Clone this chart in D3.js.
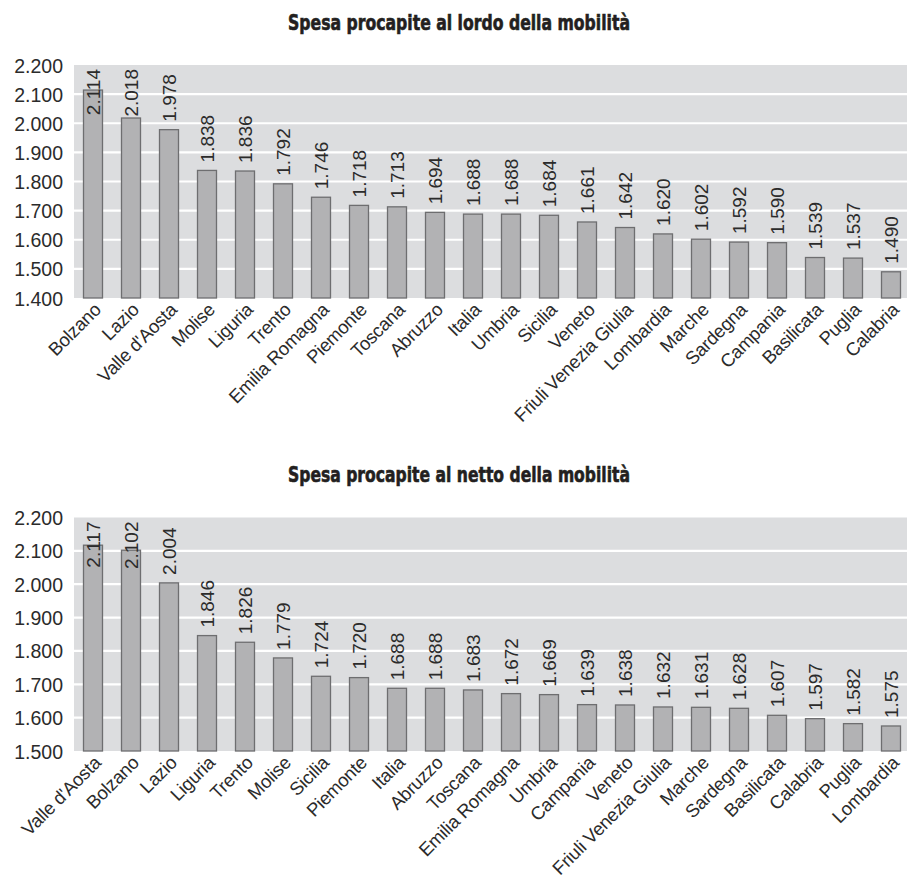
<!DOCTYPE html>
<html>
<head>
<meta charset="utf-8">
<script src="https://cdn.jsdelivr.net/npm/d3@7"></script>
<style>
  html, body { margin: 0; padding: 0; background: #fff; }
  svg { display: block; }
  .title { font-family: "Liberation Sans Narrow", "DejaVu Sans Condensed", sans-serif; font-weight: bold; fill: #231f20; stroke: #231f20; stroke-width: 0.6px; }
  .tick text, .cat, .val { font-family: "Liberation Sans", Arial, sans-serif; fill: #2b2b2b; }
</style>
</head>
<body>
<svg id="chart" width="907" height="879"></svg>
<script>
// Spesa procapite al lordo della mobilità
const lordoRegions = ["Bolzano", "Lazio", "Valle d'Aosta", "Molise", "Liguria", "Trento", "Emilia Romagna", "Piemonte", "Toscana", "Abruzzo", "Italia", "Umbria", "Sicilia", "Veneto", "Friuli Venezia Giulia", "Lombardia", "Marche", "Sardegna", "Campania", "Basilicata", "Puglia", "Calabria"];
const lordoValues = [2114, 2018, 1978, 1838, 1836, 1792, 1746, 1718, 1713, 1694, 1688, 1688, 1684, 1661, 1642, 1620, 1602, 1592, 1590, 1539, 1537, 1490];
const lordoTicks = [1400, 1500, 1600, 1700, 1800, 1900, 2000, 2100, 2200];

// Spesa procapite al netto della mobilità
const nettoRegions = ["Valle d'Aosta", "Bolzano", "Lazio", "Liguria", "Trento", "Molise", "Sicilia", "Piemonte", "Italia", "Abruzzo", "Toscana", "Emilia Romagna", "Umbria", "Campania", "Veneto", "Friuli Venezia Giulia", "Marche", "Sardegna", "Basilicata", "Calabria", "Puglia", "Lombardia"];
const nettoValues = [2117, 2102, 2004, 1846, 1826, 1779, 1724, 1720, 1688, 1688, 1683, 1672, 1669, 1639, 1638, 1632, 1631, 1628, 1607, 1597, 1582, 1575];
const nettoTicks = [1500, 1600, 1700, 1800, 1900, 2000, 2100, 2200];

const titles = ["Spesa procapite al lordo della mobilità", "Spesa procapite al netto della mobilità"];

const it = d3.formatLocale({ decimal: ",", thousands: ".", grouping: [3], currency: ["€", ""] });
const fmt = it.format(",d");

const svg = d3.select("#chart");

function drawPanel(cfg) {
  const g = svg.append("g");
  const x = d3.scaleBand().domain(cfg.regions).range([74, 910]).paddingInner(0.5).paddingOuter(0.25);
  const y = d3.scaleLinear().domain([cfg.ticks[0], cfg.ticks[cfg.ticks.length - 1]]).range([cfg.bottom, cfg.top]);

  g.append("text").attr("class", "title")
    .attr("x", 459).attr("y", cfg.titleY)
    .attr("text-anchor", "middle")
    .style("font-size", "21px")
    .attr("textLength", 342).attr("lengthAdjust", "spacingAndGlyphs")
    .text(cfg.title);

  // plot background
  g.append("rect")
    .attr("x", 74).attr("y", cfg.top)
    .attr("width", 907 - 74).attr("height", cfg.bottom - cfg.top)
    .attr("fill", "#dcdddf");

  // horizontal gridlines
  g.selectAll(".grid").data(cfg.ticks.slice(1, -1)).join("line")
    .attr("x1", 74).attr("x2", 907)
    .attr("y1", d => y(d)).attr("y2", d => y(d))
    .attr("stroke", "#ffffff").attr("stroke-width", 2.2);

  // y axis labels
  const ax = g.append("g").attr("transform", "translate(74,0)")
    .call(d3.axisLeft(y).tickValues(cfg.ticks).tickFormat(fmt).tickSize(0).tickPadding(11));
  ax.select(".domain").remove();
  ax.selectAll("text").style("font-size", "19.5px").attr("dy", "0.36em").attr("fill", "#2b2b2b");

  // bars
  g.selectAll(".bar").data(cfg.values).join("rect")
    .attr("x", (d, i) => x(cfg.regions[i]))
    .attr("y", d => y(d))
    .attr("width", x.bandwidth())
    .attr("height", d => cfg.bottom - y(d))
    .attr("fill", "#b2b2b4")
    .attr("stroke", "#6e6e70").attr("stroke-width", 1.3);

  // value labels, vertical; kept inside the plot when the bar is too tall
  g.selectAll(".val").data(cfg.values).join("text")
    .attr("class", "val")
    .style("font-size", "19px")
    .attr("text-anchor", "start")
    .attr("dy", "0.35em")
    .text(d => fmt(d))
    .each(function (d, i) {
      const len = this.getComputedTextLength();
      let base = y(d) - 8;
      if (base - len < cfg.top + 3) base = cfg.top + 4 + len;
      const cx = x(cfg.regions[i]) + x.bandwidth() / 2;
      d3.select(this).attr("transform", `translate(${cx},${base}) rotate(-90)`);
    });

  // category labels
  g.selectAll(".cat").data(cfg.regions).join("text")
    .attr("class", "cat")
    .style("font-size", "18.5px")
    .style("letter-spacing", "-0.25px")
    .attr("text-anchor", "end")
    .attr("transform", d => `translate(${x(d) + x.bandwidth() / 2 + 9},${cfg.bottom + 13}) rotate(-45)`)
    .text(d => d);
}

drawPanel({ title: titles[0], regions: lordoRegions, values: lordoValues, ticks: lordoTicks, top: 65, bottom: 298, titleY: 30 });
drawPanel({ title: titles[1], regions: nettoRegions, values: nettoValues, ticks: nettoTicks, top: 517.5, bottom: 751, titleY: 481.5 });
</script>
</body>
</html>
